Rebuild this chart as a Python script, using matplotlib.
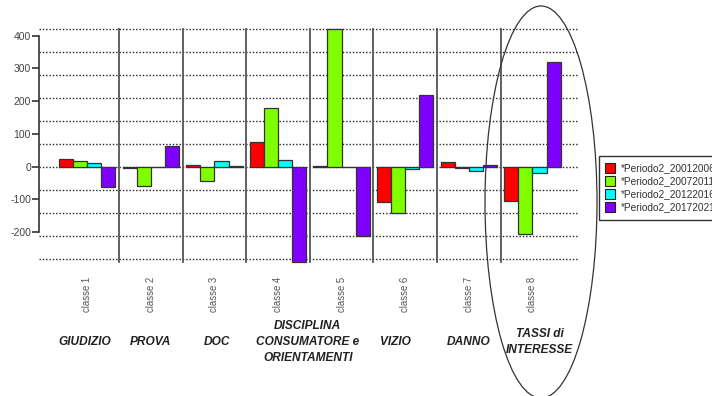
import numpy as np
import matplotlib
matplotlib.use("Agg")
import matplotlib.pyplot as plt
from matplotlib.patches import Ellipse
from matplotlib.lines import Line2D

plt.rcParams['font.family'] = ['Liberation Sans', 'DejaVu Sans']
plt.rcParams['axes.unicode_minus'] = False

# Classes and their topic names
classes = ["classe 1", "classe 2", "classe 3", "classe 4",
           "classe 5", "classe 6", "classe 7", "classe 8"]
topics = ["GIUDIZIO", "PROVA", "DOC", "DISCIPLINA\nCONSUMATORE e\nORIENTAMENTI",
          "VIZIO", "DANNO", "TASSI di\nINTERESSE"]
# where each topic name sits, in group-axis units (classe 1 centre = 2.5)
topic_x = [2.3, 7.0, 11.7, 18.1, 24.3, 29.5, 34.5]

# One series per period
periods = ["*Periodo2_20012006", "*Periodo2_20072011",
           "*Periodo2_20122016", "*Periodo2_20172021"]
p2001 = [24, -5, 6, 74, 2, -109, 13, -104]
p2007 = [18, -60, -45, 180, 421, -141, -4, -206]
p2012 = [11, -2, 19, 22, -2, -6, -14, -19]
p2017 = [-63, 64, 1, -292, -211, 219, 5, 319]
series = [p2001, p2007, p2012, p2017]
colors = ["#FF0000", "#80FF00", "#00FFFF", "#8000FF"]

W, H = 712, 396
fig = plt.figure(figsize=(W / 100, H / 100), dpi=100)

# axes placed in pixels: left 39.3, right 579.3, top 22.6, bottom 265
ax = fig.add_axes([39.3 / W, (H - 265) / H, 540 / W, (265 - 22.6) / H])
ax.set_xlim(-0.89, 37.32)
ax.set_ylim(-300, 440)

# horizontal dotted grid, 10 equal steps through 0
step = 70.32
for k in range(-4, 7):
    ax.axhline(k * step, color="#222222", lw=1.0, ls=(0, (1, 1.4)), zorder=1)

# bars: 4 per group, half a bar gap between groups
n = len(classes)
for i, (vals, c) in enumerate(zip(series, colors)):
    xs = [0.5 + 4.5 * g + i for g in range(n)]
    ax.bar(xs, vals, width=1, align="edge", color=c, edgecolor="#333333",
           linewidth=0.9, zorder=3)

# vertical separators between groups
allv = np.concatenate(series)
for g in range(n - 1):
    ax.plot([4.75 + 4.5 * g] * 2, [allv.min(), allv.max()],
            color="#555555", lw=1.3, zorder=2)

# left axis only over the tick range
for s in ["top", "right", "bottom"]:
    ax.spines[s].set_visible(False)
ax.spines["left"].set_bounds(-200, 400)
ax.spines["left"].set_color("#333333")
ax.spines["left"].set_linewidth(1.2)
ax.set_yticks(range(-200, 401, 100))
ax.tick_params(axis="y", length=5, width=1.2, color="#333333",
               labelsize=7.5, labelcolor="#444444", pad=1)
ax.set_xticks([])

# class labels under each group
xt = ax.get_xaxis_transform()
for g in range(n):
    ax.text(2.5 + 4.5 * g, -0.049, classes[g], rotation=90, ha="center",
            va="top", fontsize=6.9, color="#555555", transform=xt)

# topic names below the class labels
for name, x in zip(topics, topic_x):
    ax.text(x, -0.316, name, ha="center", va="center",
            fontsize=8.6, fontweight="bold", fontstyle="italic",
            color="#222222", linespacing=1.45, transform=xt)

# legend on the right edge
handles = [Line2D([], [], marker="s", ls="none", markersize=6.5,
                  markerfacecolor=c, markeredgecolor="#222222",
                  markeredgewidth=0.8) for c in colors]
leg = fig.legend(handles, periods, loc="upper left",
                 bbox_to_anchor=(598.7 / W, 1 - 156 / H),
                 fontsize=7.3, frameon=True, fancybox=False,
                 edgecolor="#333333", framealpha=1, borderpad=0.75,
                 labelspacing=0.28, handlelength=0.8, handletextpad=0.6,
                 borderaxespad=0)
leg.get_frame().set_linewidth(1.0)
for t in leg.get_texts():
    t.set_color("#333333")

# ellipse round the last class
ell = Ellipse((541 / W, 1 - 202 / H), 112 / W, 392 / H,
              transform=fig.transFigure, fill=False,
              edgecolor="#333333", lw=0.9)
fig.patches.append(ell)

fig.savefig("out.png", dpi=100)
